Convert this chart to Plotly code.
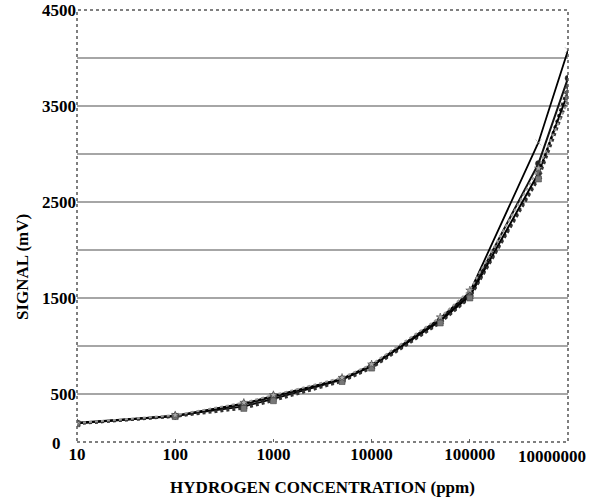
import numpy as np
import plotly.graph_objects as go

# concentrations (ppm)
conc = [10, 100, 500, 1000, 5000, 10000, 50000, 100000, 500000, 1000000]

# signal (mV) for the sensors
s1 = [195, 275, 370, 450, 650, 790, 1290, 1560, 3120, 4080]
s2 = [195, 270, 395, 470, 660, 800, 1270, 1540, 2900, 3790]
s3 = [190, 268, 380, 460, 640, 780, 1250, 1510, 2760, 3700]
s4 = [200, 272, 400, 480, 655, 790, 1260, 1520, 2800, 3640]
s5 = [190, 265, 350, 430, 630, 770, 1240, 1500, 2740, 3580]
s6 = [198, 280, 410, 490, 670, 810, 1300, 1580, 2850, 3550]

x_tick_vals = [10, 100, 1000, 10000, 100000, 1000000]
x_tick_text = ["10", "100", "1000", "10000", "100000", "10000000"]
y_tick_vals = [0, 500, 1500, 2500, 3500, 4500]
y_tick_text = ["0", "500", "1500", "2500", "3500", "4500"]

series = [s1, s2, s3, s4, s5, s6]
styles = [
    dict(color="#000000", dash="solid", width=1.8, symbol="x-thin-open", mcolor="#888888"),
    dict(color="#111111", dash="solid", width=2, symbol="circle", mcolor="#222222"),
    dict(color="#222222", dash="dot", width=2.5, symbol="triangle-up", mcolor="#555555"),
    dict(color="#000000", dash="solid", width=2, symbol="diamond", mcolor="#666666"),
    dict(color="#333333", dash="dot", width=2.5, symbol="square", mcolor="#777777"),
    dict(color="#999999", dash="dot", width=2, symbol="star", mcolor="#aaaaaa"),
]

fig = go.Figure()
for s, st in zip(series, styles):
    fig.add_trace(go.Scatter(
        x=conc, y=s, mode="lines+markers",
        line=dict(color=st["color"], dash=st["dash"], width=st["width"]),
        marker=dict(symbol=st["symbol"], size=6, color=st["mcolor"],
                    line=dict(color="#333333", width=0.5)),
        showlegend=False,
    ))

font_family = "Liberation Serif"

fig.update_layout(
    width=590, height=497,
    margin=dict(l=77, r=22, t=10, b=55),
    plot_bgcolor="white", paper_bgcolor="white",
    font=dict(family=font_family, size=17, color="black"),
    showlegend=False,
)

fig.update_xaxes(
    type="log", range=[np.log10(x_tick_vals[0]), np.log10(x_tick_vals[-1])],
    tickvals=x_tick_vals, ticktext=["<b>" + t + "</b>" for t in x_tick_text[:-1]] + [""],
    tickfont=dict(family=font_family, size=17, color="black"),
    showgrid=False, zeroline=False, showline=False, automargin=False,
    ticks="inside", ticklen=3, tickcolor="#666666",
    title=dict(text="<b>HYDROGEN CONCENTRATION (ppm)</b>", standoff=24,
               font=dict(family=font_family, size=17)),
)
fig.update_yaxes(
    range=[0, 4500], automargin=False,
    tickvals=y_tick_vals, ticktext=[""] + ["<b>" + t + "</b>" for t in y_tick_text[1:]],
    tickfont=dict(family=font_family, size=17, color="black"),
    showgrid=True, gridcolor="#a6a6a6", gridwidth=2,
    minor=dict(dtick=500, showgrid=True, gridcolor="#a6a6a6", gridwidth=2),
    zeroline=False, showline=False, ticks="",
)

# y-axis title (sits below the plot centre in the original)
fig.add_annotation(
    x=-0.112, y=0.405, xref="paper", yref="paper",
    text="<b>SIGNAL (mV)</b>", textangle=-90, showarrow=False,
    xanchor="center", yanchor="middle",
    font=dict(family=font_family, size=17, color="black"),
)
# "0" y label sits further left in the original, clear of the "10" label
fig.add_annotation(
    x=0, y=y_tick_vals[0], xref="paper", yref="y",
    text="<b>" + y_tick_text[0] + "</b>", showarrow=False,
    xanchor="right", yanchor="middle", xshift=-14, yshift=-1,
    font=dict(family=font_family, size=17, color="black"),
)
# last x tick label (shifted left to fit inside the page, as in the original)
fig.add_annotation(
    x=np.log10(x_tick_vals[-1]), y=0, xref="x", yref="paper",
    text="<b>" + x_tick_text[-1] + "</b>", showarrow=False,
    xanchor="right", yanchor="top", xshift=20, yshift=-3,
    font=dict(family=font_family, size=17, color="black"),
)

# darker gridline at 4000
fig.add_shape(type="line", xref="paper", yref="y", x0=0, x1=1, y0=4000, y1=4000,
              line=dict(color="#333333", width=1.2), layer="below")
# dotted plot frame
fig.add_shape(type="rect", xref="paper", yref="paper", x0=0, x1=1, y0=0, y1=1,
              line=dict(color="#555555", width=1.5, dash="dot"), layer="above")

fig.write_html("out.html")
